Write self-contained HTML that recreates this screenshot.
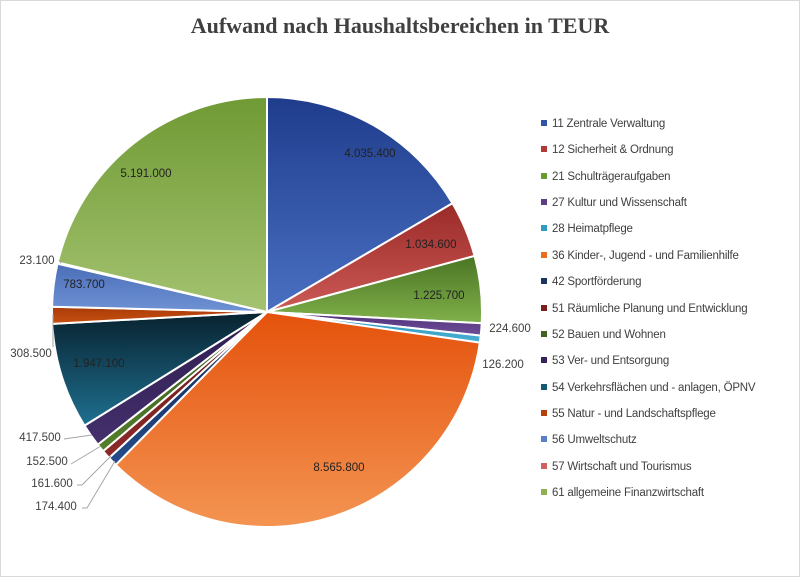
<!DOCTYPE html>
<html><head><meta charset="utf-8"><style>
html,body{margin:0;padding:0;background:#fff}
#c{position:relative;width:798px;height:575px;border:1px solid #d9d9d9;overflow:hidden;font-family:"Liberation Sans",sans-serif}
.t{position:absolute;left:0;width:100%;top:12px;text-align:center;font-family:"Liberation Serif",serif;font-weight:bold;font-size:22px;color:#404040}
.lg{position:absolute;left:540px;font-size:11.5px;color:#404040;white-space:nowrap;letter-spacing:-0.2px}
.lg i{display:inline-block;width:6px;height:6px;margin-right:5px;vertical-align:1px}
svg text{font-family:"Liberation Sans",sans-serif;font-size:11.5px;fill:#404040}
</style></head><body><div id="c">
<div class="t">Aufwand nach Haushaltsbereichen in TEUR</div>
<svg id="s" width="798" height="575" style="position:absolute;left:0;top:0">
<defs id="d"></defs><g id="p"></g>
<g stroke="#a6a6a6" fill="none" stroke-width="1">
<path d="M52 313 L52 346"/>
<path d="M63 438 L91 434"/>
<path d="M70 463 L100 445"/>
<path d="M76 484 L81 484 L110 455"/>
<path d="M81 507 L86 507 L114 460"/>
<path d="M58 259 L60 262"/>
</g>
<g text-anchor="middle">
<text x="369" y="156" style="fill:#222">4.035.400</text>
<text x="430" y="247" style="fill:#222">1.034.600</text>
<text x="438" y="298" style="fill:#222">1.225.700</text>
<text x="509" y="331">224.600</text>
<text x="502" y="367">126.200</text>
<text x="338" y="470" style="fill:#222">8.565.800</text>
<text x="98" y="366" style="fill:#222">1.947.100</text>
<text x="30" y="356">308.500</text>
<text x="83" y="287" style="fill:#222">783.700</text>
<text x="36" y="263">23.100</text>
<text x="145" y="176" style="fill:#222">5.191.000</text>
<text x="39" y="440">417.500</text>
<text x="46" y="464">152.500</text>
<text x="51" y="486">161.600</text>
<text x="55" y="509">174.400</text>
</g>
</svg>
<div class="lg" style="top:117px"><i style="background:#2f55a4"></i>11 Zentrale Verwaltung</div>
<div class="lg" style="top:143px"><i style="background:#b23a37"></i>12 Sicherheit &amp; Ordnung</div>
<div class="lg" style="top:170px"><i style="background:#6a9a34"></i>21 Schulträgeraufgaben</div>
<div class="lg" style="top:196px"><i style="background:#5c3c85"></i>27 Kultur und Wissenschaft</div>
<div class="lg" style="top:222px"><i style="background:#2e9cc0"></i>28 Heimatpflege</div>
<div class="lg" style="top:249px"><i style="background:#ee6c22"></i>36 Kinder-, Jugend - und Familienhilfe</div>
<div class="lg" style="top:275px"><i style="background:#1a3560"></i>42 Sportförderung</div>
<div class="lg" style="top:302px"><i style="background:#7a1e1e"></i>51 Räumliche Planung und Entwicklung</div>
<div class="lg" style="top:328px"><i style="background:#40631f"></i>52 Bauen und Wohnen</div>
<div class="lg" style="top:354px"><i style="background:#36235a"></i>53 Ver- und Entsorgung</div>
<div class="lg" style="top:381px"><i style="background:#155a75"></i>54 Verkehrsflächen und - anlagen, ÖPNV</div>
<div class="lg" style="top:407px"><i style="background:#b5410a"></i>55 Natur - und Landschaftspflege</div>
<div class="lg" style="top:433px"><i style="background:#5b80c8"></i>56 Umweltschutz</div>
<div class="lg" style="top:460px"><i style="background:#d06060"></i>57 Wirtschaft und Tourismus</div>
<div class="lg" style="top:486px"><i style="background:#8fb050"></i>61 allgemeine Finanzwirtschaft</div>
</div>
<script>
var v=[4035.4,1034.6,1225.7,224.6,126.2,8565.8,174.4,161.6,152.5,417.5,1947.1,308.5,783.7,23.1,5191];
var c=[["#1f3c8c","#4a70c2"],["#9a2a28","#cc5a56"],["#4a7524","#80b04a"],["#4e3078","#6e4e98"],["#2590b8","#4ab0d4"],["#e4520c","#f49452"],["#10244a","#244c8c"],["#641616","#8e2a2a"],["#34541a","#54802c"],["#2e1d50","#44306c"],["#08222f","#1f7090"],["#a83a08","#c85010"],["#4a6eb8","#6f92d4"],["#c05050","#dc7070"],["#6f9a34","#a4c270"]];
var cx=266,cy=311,r=215,T=0;v.forEach(function(x){T+=x});
var d=document.getElementById("d"),g=document.getElementById("p"),a=-Math.PI/2,h="",q="";
v.forEach(function(x,i){var b=a+x/T*2*Math.PI;
q+='<linearGradient id="g'+i+'" x1="0" y1="0" x2="0" y2="1"><stop offset="0" stop-color="'+c[i][0]+'"/><stop offset="1" stop-color="'+c[i][1]+'"/></linearGradient>';
var x1=cx+r*Math.cos(a),y1=cy+r*Math.sin(a),x2=cx+r*Math.cos(b),y2=cy+r*Math.sin(b);
h+='<path d="M'+cx+' '+cy+' L'+x1+' '+y1+' A'+r+' '+r+' 0 '+((b-a)>Math.PI?1:0)+' 1 '+x2+' '+y2+' Z" fill="url(#g'+i+')" stroke="#fff" stroke-width="2" stroke-linejoin="round"/>';
a=b;});
d.innerHTML=q;g.innerHTML=h;
</script>
</body></html>
